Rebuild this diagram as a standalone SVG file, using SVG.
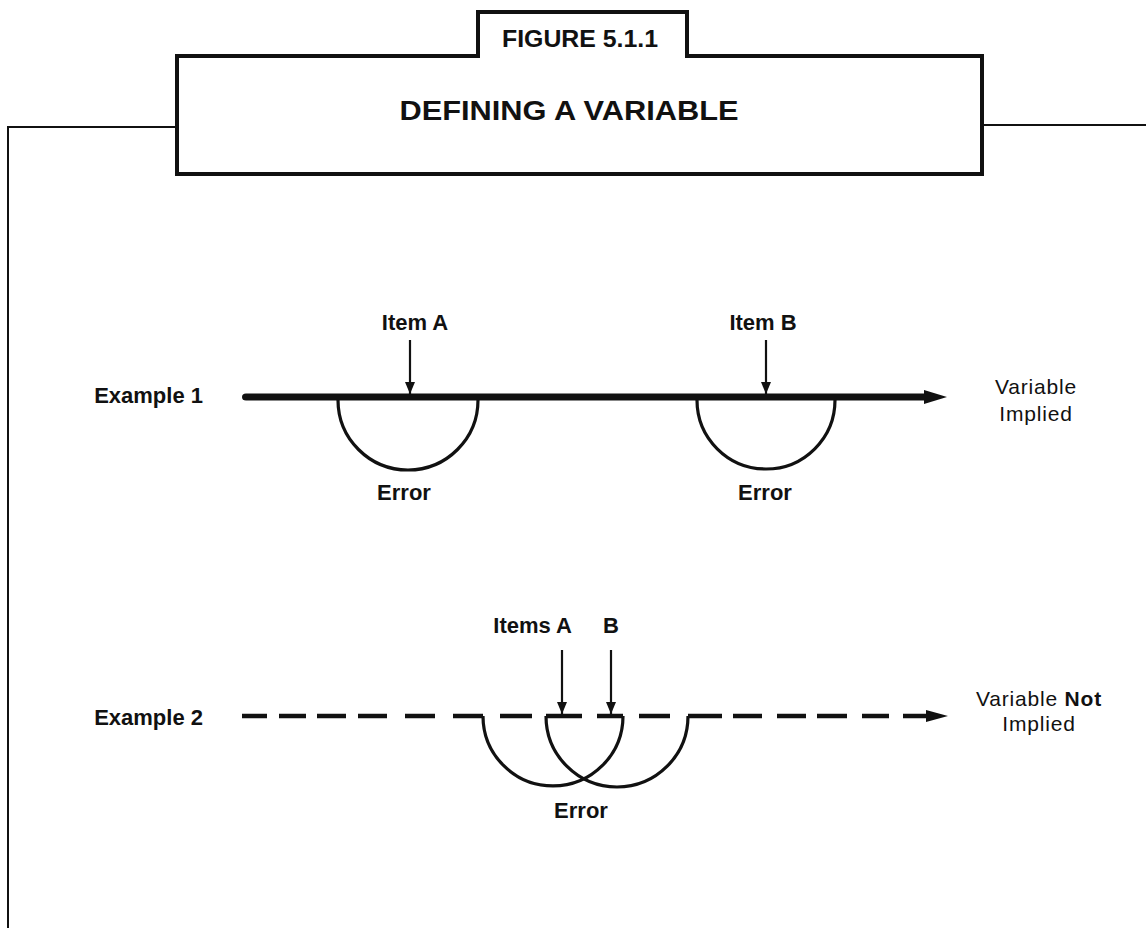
<svg xmlns="http://www.w3.org/2000/svg" width="1146" height="928" viewBox="0 0 1146 928">
<style>
.frame{fill:none;stroke:#111;stroke-width:2}
.box{fill:none;stroke:#111;stroke-width:4;stroke-linejoin:miter}
.lbl{font-family:"Liberation Sans",Arial,sans-serif;font-weight:bold;font-size:22px;fill:#111}
.var{font-family:"Liberation Sans",Arial,sans-serif;font-size:21px;letter-spacing:0.8px;fill:#111}
.head{font-family:"Liberation Sans",Arial,sans-serif;font-weight:bold;fill:#111}
.arc{fill:none;stroke:#111;stroke-width:3.2}
.ptr{fill:none;stroke:#111;stroke-width:2.2}
.dash{fill:none;stroke:#111;stroke-width:4.5}
</style>
<defs>
<marker id="ah" viewBox="0 0 12 10" markerWidth="12" markerHeight="10" refX="12" refY="5" orient="auto" markerUnits="userSpaceOnUse">
<path d="M0,0 L12,5 L0,10 z" fill="#111"/>
</marker>
</defs>
<rect width="1146" height="928" fill="#fff"/>

<g id="frame">
<path class="frame" d="M8,928 V127 H177"/>
<path class="frame" d="M982,125 H1146"/>
</g>

<g id="title">
<path class="box" d="M177,56 H478 V12 H687 V56 H982 V174 H177 Z"/>
<text class="head" x="580" y="47" font-size="23" text-anchor="middle" textLength="156" lengthAdjust="spacingAndGlyphs">FIGURE 5.1.1</text>
<text class="head" x="569" y="120" font-size="27" text-anchor="middle" textLength="339" lengthAdjust="spacingAndGlyphs">DEFINING A VARIABLE</text>
</g>

<g id="example1-label"><text class="lbl" x="203" y="403" text-anchor="end">Example 1</text></g>
<g id="item-a"><text class="lbl" x="415" y="330" text-anchor="middle">Item A</text></g>
<g id="item-b"><text class="lbl" x="763" y="330" text-anchor="middle">Item B</text></g>
<g id="error-a"><text class="lbl" x="404" y="500" text-anchor="middle">Error</text></g>
<g id="error-b"><text class="lbl" x="765" y="500" text-anchor="middle">Error</text></g>
<g id="variable-implied">
<text class="var" x="1036" y="394" text-anchor="middle">Variable</text>
<text class="var" x="1036" y="421" text-anchor="middle">Implied</text>
</g>

<g id="example2-label"><text class="lbl" x="203" y="725" text-anchor="end">Example 2</text></g>
<g id="items-ab">
<text class="lbl" x="572" y="633" text-anchor="end">Items A</text>
<text class="lbl" x="603" y="633">B</text>
</g>
<g id="error-ab"><text class="lbl" x="581" y="818" text-anchor="middle">Error</text></g>
<g id="variable-not-implied">
<text class="var" x="1039" y="706" text-anchor="middle">Variable <tspan font-weight="bold">Not</tspan></text>
<text class="var" x="1039" y="731" text-anchor="middle">Implied</text>
</g>

<g id="connectors">
<!-- Example 1 -->
<path d="M246,393.5 H930 V400.5 H246 Q242,400.5 242,397 Q242,393.5 246,393.5 Z" fill="#111"/>
<polygon points="924,390 947,397 924,404" fill="#111"/>
<path class="arc" d="M338,400 A70,70 0 0 0 478,400"/>
<path class="arc" d="M697,400 A69,69 0 0 0 835,400"/>
<line class="ptr" x1="410" y1="340" x2="410" y2="394" marker-end="url(#ah)"/>
<line class="ptr" x1="766" y1="340" x2="766" y2="394" marker-end="url(#ah)"/>
<!-- Example 2 -->
<path class="dash" d="M242,716 H267 M279,716 H306 M317,716 H346 M358,716 H387 M405,716 H435 M453,716 H483 M500,716 H532 M546,716 H582 M597,716 H623 M639,716 H670 M688,716 H722 M733,716 H762 M777,716 H806 M817,716 H847 M862,716 H889 M903,716 H930"/>
<polygon points="926,710 948,716 926,722" fill="#111"/>
<path class="arc" d="M483,716 A70,70 0 0 0 623,716"/>
<path class="arc" d="M546,716 A71,71 0 0 0 688,716"/>
<line class="ptr" x1="562" y1="650" x2="562" y2="714" marker-end="url(#ah)"/>
<line class="ptr" x1="611" y1="650" x2="611" y2="714" marker-end="url(#ah)"/>
</g>
</svg>
